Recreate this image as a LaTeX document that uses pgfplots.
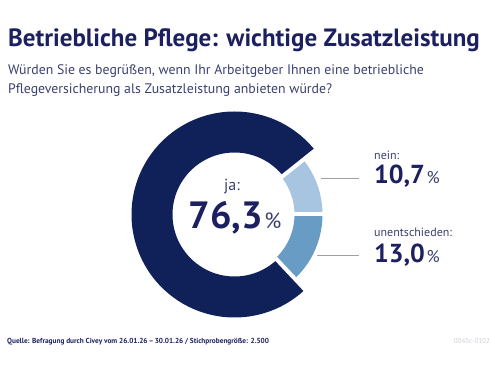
\documentclass[border=0pt]{standalone}
\usepackage{pgfplots}
\usepackage{pgfplotstable}
\pgfplotsset{compat=1.18}
\usepackage{fontspec}
\setmainfont{PT Sans}
\definecolor{navy}{RGB}{16,33,90}
\definecolor{titlenavy}{RGB}{28,32,96}
\definecolor{subnavy}{RGB}{58,64,112}
\definecolor{lightblue}{RGB}{167,197,224}
\definecolor{midblue}{RGB}{105,156,197}
\definecolor{linegray}{RGB}{160,160,160}
\definecolor{idgray}{RGB}{205,207,215}

\pgfplotstableread{
label value
ja 76.3
nein 10.7
unentschieden 13.0
}\donutdata
\pgfplotstablegetelem{0}{value}\of\donutdata \let\vJa\pgfplotsretval
\pgfplotstablegetelem{1}{value}\of\donutdata \let\vNein\pgfplotsretval
\pgfplotstablegetelem{2}{value}\of\donutdata \let\vUnent\pgfplotsretval
\pgfmathsetmacro{\aNein}{3.6*\vNein}
\pgfmathsetmacro{\aUnent}{-3.6*\vUnent}
\pgfmathsetmacro{\aJaEnd}{\aNein+3.6*\vJa}

\begin{document}
\begin{tikzpicture}
\begin{axis}[
  scale only axis, width=491bp, height=368bp,
  xmin=-234.5, xmax=256.5, ymin=-153.5, ymax=214.5,
  hide axis, clip=false,
]
\path (rel axis cs:0,0) (rel axis cs:1,1);
% donut: ja
\addplot[draw=navy, line width=41bp, domain=\aNein:\aJaEnd, samples=150, data cs=polar] ({x},{82.5});
% nein
\addplot[draw=lightblue, line width=28bp, domain=0:\aNein, samples=40, data cs=polar] ({x},{74});
% unentschieden
\addplot[draw=midblue, line width=28bp, domain=\aUnent:0, samples=40, data cs=polar] ({x},{74});
% gaps
\addplot[white, line width=4bp, data cs=polar] coordinates {(0,40) (0,110)};
\addplot[white, line width=4bp, data cs=polar] coordinates {(38.52,40) (38.52,110)};
\addplot[white, line width=4bp, data cs=polar] coordinates {(-46.8,40) (-46.8,110)};
% leader lines
\addplot[linegray, line width=1bp] coordinates {(86,35.5) (124.5,35.5)};
\addplot[linegray, line width=1bp] coordinates {(82.5,-41.5) (124.5,-41.5)};

% texts
\node[anchor=base west, inner sep=0, text=titlenavy, font=\fontsize{25bp}{28bp}\selectfont\bfseries] at (axis cs:-226.5,167.5) {Betriebliche Pflege: wichtige Zusatzleistung};
\node[anchor=base west, inner sep=0, text=subnavy, font=\fontsize{13.8bp}{15bp}\selectfont] at (axis cs:-226.5,139.5) {Würden Sie es begrüßen, wenn Ihr Arbeitgeber Ihnen eine betriebliche};
\node[anchor=base west, inner sep=0, text=subnavy, font=\fontsize{13.8bp}{15bp}\selectfont] at (axis cs:-226.5,120.5) {Pflegeversicherung als Zusatzleistung anbieten würde?};

\node[anchor=base, inner sep=0, text=subnavy, font=\fontsize{16bp}{18bp}\selectfont] at (axis cs:-2.5,23.5) {ja:};
\node[anchor=base, inner sep=0, text=titlenavy] at (axis cs:0.5,-14.5) {{\fontsize{38bp}{40bp}\selectfont\bfseries 76,3}\,{\fontsize{22bp}{24bp}\selectfont\color{subnavy}\%}};

\node[anchor=base west, inner sep=0, text=subnavy, font=\fontsize{12bp}{14bp}\selectfont] at (axis cs:139.5,54.5) {nein:};
\node[anchor=base west, inner sep=0, text=titlenavy] at (axis cs:139.5,30.5) {{\fontsize{26bp}{28bp}\selectfont\bfseries 10,7}\,{\fontsize{17bp}{18bp}\selectfont\color{subnavy}\%}};
\node[anchor=base west, inner sep=0, text=subnavy, font=\fontsize{12bp}{14bp}\selectfont] at (axis cs:139.5,-22.2) {unentschieden:};
\node[anchor=base west, inner sep=0, text=titlenavy] at (axis cs:139.5,-48.2) {{\fontsize{26bp}{28bp}\selectfont\bfseries 13,0}\,{\fontsize{17bp}{18bp}\selectfont\color{subnavy}\%}};

\node[anchor=base west, inner sep=0, text=titlenavy, font=\fontsize{7.3bp}{8bp}\selectfont\bfseries] at (axis cs:-227.5,-128.5) {Quelle: Befragung durch Civey vom 26.01.26\,–\,30.01.26 / Stichprobengröße: 2.500};
\node[anchor=base east, inner sep=0, text=idgray, font=\fontsize{7bp}{8bp}\selectfont] at (axis cs:255.5,-128.5) {0045c-0102};
\end{axis}
\end{tikzpicture}
\end{document}
